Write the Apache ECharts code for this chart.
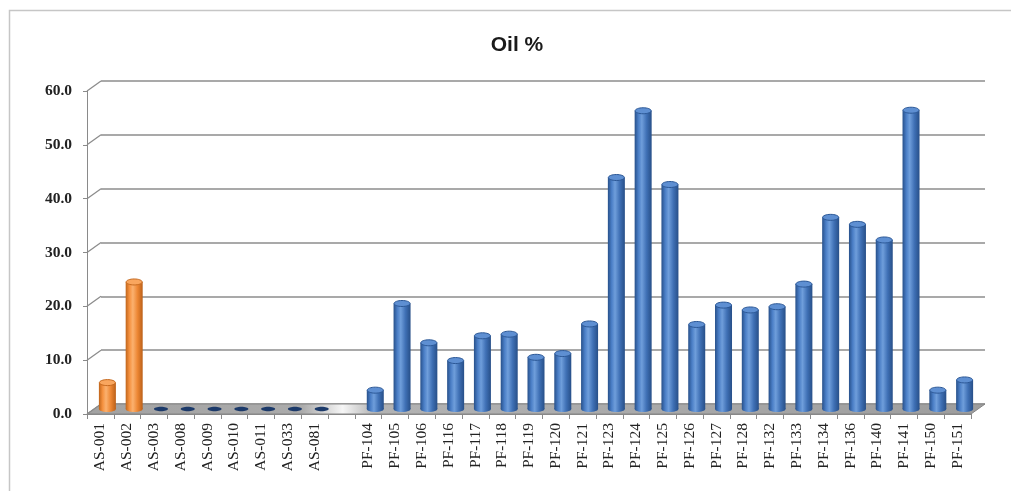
<!DOCTYPE html>
<html>
<head>
<meta charset="utf-8">
<title>Oil %</title>
<script src="https://cdn.jsdelivr.net/npm/echarts@6/dist/echarts.min.js"></script>
<style>
  html, body { margin: 0; padding: 0; background: #ffffff; }
  #chart { width: 1011px; height: 491px; }
</style>
</head>
<body>
<div id="chart"></div>
<script>
// Sample names along the horizontal axis ('' is the spacer between the two groups)
const categories = [
  'AS-001', 'AS-002', 'AS-003', 'AS-008', 'AS-009', 'AS-010', 'AS-011', 'AS-033', 'AS-081',
  '',
  'PF-104', 'PF-105', 'PF-106', 'PF-116', 'PF-117', 'PF-118', 'PF-119', 'PF-120', 'PF-121',
  'PF-123', 'PF-124', 'PF-125', 'PF-126', 'PF-127', 'PF-128', 'PF-132', 'PF-133', 'PF-134',
  'PF-136', 'PF-140', 'PF-141', 'PF-150', 'PF-151'
];

// Oil content (%) per sample
const oilValues = [
  4.9, 23.6, 0, 0, 0, 0, 0, 0, 0,
  null,
  3.5, 19.6, 12.3, 9.0, 13.6, 13.9, 9.6, 10.3, 15.8,
  43.0, 55.4, 41.7, 15.7, 19.3, 18.4, 19.0, 23.2, 35.6,
  34.3, 31.4, 55.5, 3.5, 5.4
];

// Samples drawn in the orange palette
const orangeSamples = ['AS-001', 'AS-002'];

// Value axis ticks
const yTicks = [0, 10, 20, 30, 40, 50, 60];

const DEPTH_X = 14, DEPTH_Y = 10;

const palettes = [
  { // blue
    body: new echarts.graphic.LinearGradient(0, 0, 1, 0, [
      { offset: 0, color: '#27508a' },
      { offset: 0.22, color: '#4a7ec6' },
      { offset: 0.42, color: '#6f9edb' },
      { offset: 0.7, color: '#3f70b5' },
      { offset: 1, color: '#274f88' }
    ]),
    cap: '#5e8fd2', edge: '#2c5896', flat: '#1c3a6a'
  },
  { // orange
    body: new echarts.graphic.LinearGradient(0, 0, 1, 0, [
      { offset: 0, color: '#c0651b' },
      { offset: 0.22, color: '#f5913f' },
      { offset: 0.42, color: '#fbb16f' },
      { offset: 0.7, color: '#ec8633' },
      { offset: 1, color: '#bb6019' }
    ]),
    cap: '#f9a65e', edge: '#c5691f', flat: '#9b4f12'
  }
];

const barData = categories.map((c, i) => [i, oilValues[i], orangeSamples.indexOf(c) >= 0 ? 1 : 0]);

const chart = echarts.init(document.getElementById('chart'), null, { renderer: 'canvas' });

const serif = '"Liberation Serif", "DejaVu Serif", serif';

chart.setOption({
  backgroundColor: '#ffffff',
  animation: false,
  title: {
    text: 'Oil %',
    left: 512,
    top: 30,
    textAlign: 'center',
    textStyle: { fontFamily: '"Liberation Sans", Arial, sans-serif', fontWeight: 'bold', fontSize: 21, color: '#1a1a1a' }
  },
  graphic: [{
    type: 'rect',
    shape: { x: 9.5, y: 10.5, width: 1100, height: 600 },
    style: { fill: 'none', stroke: '#c6c6c6', lineWidth: 1.5 },
    silent: true, z: -10
  }],
  grid: [
    // front plane: axes and labels
    { left: 87, right: 40, top: 91, bottom: 77 },
    // back wall: gridlines
    { left: 87 + DEPTH_X, right: 40 - DEPTH_X, top: 91 - DEPTH_Y, bottom: 77 + DEPTH_Y },
    // mid depth: cylinders
    { left: 87 + DEPTH_X / 2, right: 40 - DEPTH_X / 2, top: 91 - DEPTH_Y / 2, bottom: 77 + DEPTH_Y / 2 }
  ],
  xAxis: [
    {
      gridIndex: 0, type: 'category', data: categories,
      axisLine: { show: true, lineStyle: { color: '#8a8a8a', width: 1 } },
      axisTick: { show: true, length: 5, interval: 0, alignWithLabel: false, lineStyle: { color: '#8a8a8a' } },
      axisLabel: { interval: 0, rotate: 90, margin: 9, fontFamily: serif, fontSize: 15.5, color: '#222' },
      splitLine: { show: false }
    },
    { gridIndex: 1, type: 'category', data: categories, show: false },
    { gridIndex: 2, type: 'category', data: categories, show: false }
  ],
  yAxis: [
    {
      gridIndex: 0, type: 'value', min: 0, max: 60, interval: 10,
      axisLine: { show: true, lineStyle: { color: '#8a8a8a', width: 1 } },
      axisTick: { show: true, length: 4, lineStyle: { color: '#8a8a8a' } },
      axisLabel: { margin: 15, fontFamily: serif, fontWeight: 'bold', fontSize: 15.5, color: '#222',
        formatter: v => v.toFixed(1) },
      splitLine: { show: false }
    },
    {
      gridIndex: 1, type: 'value', min: 0, max: 60, interval: 10,
      axisLine: { show: false }, axisTick: { show: false }, axisLabel: { show: false },
      splitLine: { show: true, lineStyle: { color: '#8c8c8c', width: 1.5 } }
    },
    { gridIndex: 2, type: 'value', min: 0, max: 60, show: false }
  ],
  series: [
    // floor and left-edge depth lines
    {
      type: 'custom', xAxisIndex: 0, yAxisIndex: 0, z: 1, silent: true,
      data: yTicks.map(v => [0, v]),
      encode: { x: 0, y: 1 },
      renderItem(params, api) {
        const cs = params.coordSys;
        const y = api.coord([0, api.value(1)])[1];
        const children = [{
          type: 'line',
          shape: { x1: cs.x, y1: y, x2: cs.x + DEPTH_X, y2: y - DEPTH_Y },
          style: { stroke: '#8c8c8c', lineWidth: 1.3 }
        }];
        if (params.dataIndex === 0) {
          const yb = cs.y + cs.height;
          children.unshift({
            type: 'polygon',
            shape: { points: [
              [cs.x, yb], [cs.x + cs.width, yb],
              [cs.x + cs.width + DEPTH_X, yb - DEPTH_Y], [cs.x + DEPTH_X, yb - DEPTH_Y]
            ] },
            style: {
              fill: new echarts.graphic.LinearGradient(0, 0, 1, 0, [
                { offset: 0, color: '#a2a2a2' },
                { offset: 0.24, color: '#ababab' },
                { offset: 0.285, color: '#f6f6f6' },
                { offset: 0.32, color: '#b3b3b3' },
                { offset: 1, color: '#9d9d9d' }
              ]),
              stroke: '#858585', lineWidth: 1
            }
          });
        }
        return { type: 'group', children };
      }
    },
    // cylinders
    {
      type: 'custom', xAxisIndex: 2, yAxisIndex: 2, z: 5,
      data: barData,
      encode: { x: 0, y: 1 },
      renderItem(params, api) {
        const v = api.value(1);
        if (v == null || isNaN(v)) return;
        const idx = api.value(0);
        const pal = palettes[api.value(2)];
        const top = api.coord([idx, v]);
        const base = api.coord([idx, 0]);
        const w = 17, rx = w / 2, ry = 3;
        if (v === 0) {
          return {
            type: 'ellipse',
            shape: { cx: base[0], cy: base[1], rx: 7, ry: 2.2 },
            style: { fill: pal.flat }
          };
        }
        return {
          type: 'group',
          children: [
            { type: 'ellipse', shape: { cx: base[0], cy: base[1], rx, ry }, style: { fill: pal.body } },
            { type: 'rect', shape: { x: base[0] - rx, y: top[1], width: w, height: base[1] - top[1] },
              style: { fill: pal.body } },
            { type: 'ellipse', shape: { cx: top[0], cy: top[1], rx: rx - 0.5, ry },
              style: { fill: pal.cap, stroke: pal.edge, lineWidth: 1 } }
          ]
        };
      }
    }
  ]
});
</script>
</body>
</html>
